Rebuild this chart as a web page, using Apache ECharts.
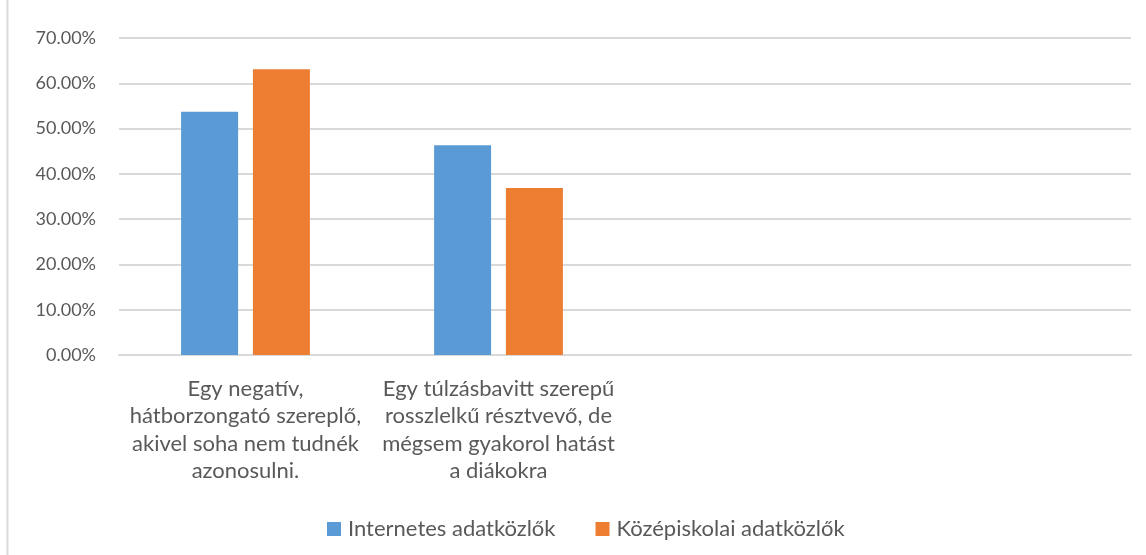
<!DOCTYPE html>
<html>
<head>
    <meta charset="utf-8">
    <title>Adatközlők</title>
    <script src="https://cdn.jsdelivr.net/npm/echarts@6/dist/echarts.min.js"></script>
    <style>
        html, body { margin: 0; padding: 0; background: #fff; }
    </style>
</head>
<body>
<div id="chart-container" style="width: 1146px; height: 555px;"></div>
<script>
    // kategóriák (a 3. és 4. üres)
    var categories = [
        'Egy negatív,\nhátborzongató szereplő,\nakivel soha nem tudnék\nazonosulni.',
        'Egy túlzásbavitt szerepű\nrosszlelkű résztvevő, de\nmégsem gyakorol hatást\na diákokra',
        '',
        ''
    ];
    var seriesNames = ['Internetes adatközlők', 'Középiskolai adatközlők'];
    var internetes = [0.537, 0.463, null, null];
    var kozepiskolai = [0.631, 0.369, null, null];

    var textColor = '#595959';
    var fontFam = 'Lato, "Open Sans", sans-serif';

    var option = {
        animation: false,
        textStyle: { fontFamily: fontFam },
        graphic: [{
            type: 'line',
            shape: { x1: 7.5, y1: 0, x2: 7.5, y2: 555 },
            style: { stroke: '#d9d9d9', lineWidth: 2 }
        }],
        legend: {
            data: seriesNames,
            bottom: 10,
            left: 322,
            itemWidth: 14,
            itemHeight: 14,
            itemGap: 40,
            icon: 'rect',
            textStyle: { color: textColor, fontSize: 22, fontFamily: fontFam, padding: [0, 0, 0, 2] }
        },
        grid: {
            left: 119,
            right: 15,
            top: 38,
            bottom: 200
        },
        xAxis: {
            type: 'category',
            data: categories,
            axisLine: { lineStyle: { color: '#d9d9d9', width: 2 } },
            axisTick: { show: false },
            axisLabel: {
                color: textColor,
                fontSize: 22,
                lineHeight: 27.5,
                margin: 20,
                interval: 0,
                align: 'center'
            }
        },
        yAxis: {
            type: 'value',
            min: 0,
            max: 0.7,
            interval: 0.1,
            axisLine: { show: false },
            axisTick: { show: false },
            axisLabel: {
                color: textColor,
                fontSize: 18,
                margin: 23,
                formatter: function (v) {
                    return (v * 100).toFixed(2) + '%';
                }
            },
            splitLine: { lineStyle: { color: '#d9d9d9', width: 2 } }
        },
        series: [{
            name: seriesNames[0],
            type: 'bar',
            data: internetes,
            barWidth: 57,
            barGap: '26%',
            itemStyle: { color: '#5b9bd5' }
        }, {
            name: seriesNames[1],
            type: 'bar',
            data: kozepiskolai,
            barWidth: 57,
            barGap: '26%',
            itemStyle: { color: '#ed7d31' }
        }]
    };

    var chart = echarts.init(document.getElementById('chart-container'));
    chart.setOption(option);
</script>
</body>
</html>
